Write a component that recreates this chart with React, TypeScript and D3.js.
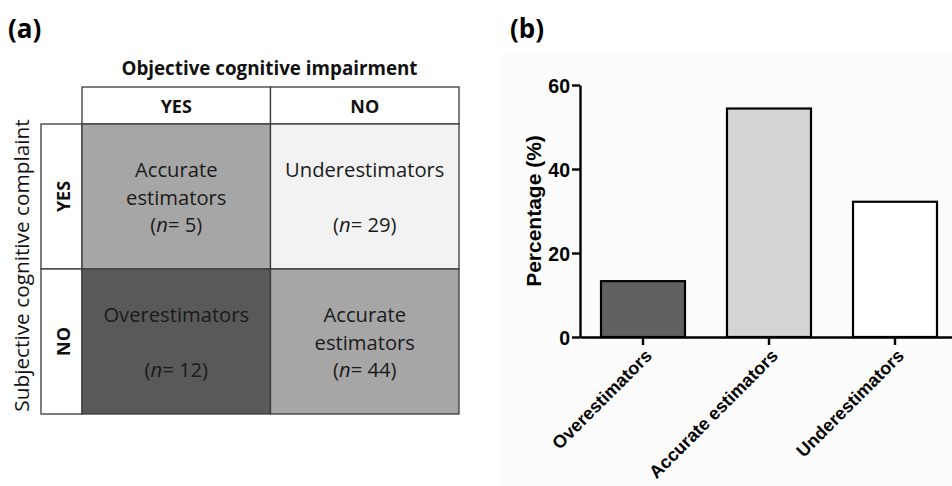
import React, { useEffect, useRef } from 'react';
import * as d3 from 'd3';

// panel (a): 2x2 table
const complaintLevels = ['YES', 'NO'];
const impairmentLevels = ['YES', 'NO'];
const cellGroups = [
  ['Accurate', 'estimators'],
  ['Underestimators'],
  ['Overestimators'],
  ['Accurate', 'estimators'],
];
const cellCounts = [5, 29, 12, 44];

// panel (b): bar chart
const groups = ['Overestimators', 'Accurate estimators', 'Underestimators'];
const percentages = [13.3, 54.4, 32.2];
const yTicks = [0, 20, 40, 60];

const cellFills = ['#a6a6a6', '#f2f2f2', '#595959', '#a6a6a6'];
const barFills = ['#616161', '#d4d4d4', '#ffffff'];

const calibriLike = '"Open Sans", sans-serif';
const arialLike = '"Liberation Sans", Arial, sans-serif';

const App = () => {
  const svgRef = useRef<SVGSVGElement>(null);

  useEffect(() => {
    const svg = d3.select(svgRef.current);
    svg.selectAll('*').remove();

    // ---------- (a) ----------
    const a = svg.append('g');
    a.append('text').text('(a)')
      .attr('x', 8).attr('y', 38)
      .style('font-family', calibriLike).style('font-weight', 700).style('font-size', '26px');

    const col = d3.scaleBand().domain(impairmentLevels).range([82, 459]);
    const row = d3.scaleBand().domain(complaintLevels).range([124, 414]);
    const lineStroke = '#3a3a3a';

    a.append('text').text('Objective cognitive impairment')
      .attr('x', (82 + 459) / 2 - 1).attr('y', 75).attr('text-anchor', 'middle')
      .style('font-family', calibriLike).style('font-weight', 700).style('font-size', '18.8px')
      .attr('fill', '#111');

    // header cells
    a.selectAll('.hcell').data(impairmentLevels).join('rect')
      .attr('class', 'hcell')
      .attr('x', d => col(d)!).attr('y', 87)
      .attr('width', col.bandwidth()).attr('height', 124 - 87)
      .attr('fill', '#fff').attr('stroke', lineStroke).attr('stroke-width', 1.3);
    a.selectAll('.htext').data(impairmentLevels).join('text')
      .attr('class', 'htext').text(d => d)
      .attr('x', d => col(d)! + col.bandwidth() / 2).attr('y', 113)
      .attr('text-anchor', 'middle')
      .style('font-family', calibriLike).style('font-weight', 700).style('font-size', '18px')
      .attr('fill', '#111');

    // row label cells
    a.selectAll('.rcell').data(complaintLevels).join('rect')
      .attr('class', 'rcell')
      .attr('x', 41).attr('y', d => row(d)!)
      .attr('width', 82 - 41).attr('height', row.bandwidth())
      .attr('fill', '#fff').attr('stroke', lineStroke).attr('stroke-width', 1.3);
    a.selectAll('.rtext').data(complaintLevels).join('text')
      .attr('class', 'rtext').text(d => d)
      .attr('transform', d => `translate(70,${row(d)! + row.bandwidth() / 2}) rotate(-90)`)
      .attr('text-anchor', 'middle')
      .style('font-family', calibriLike).style('font-weight', 700).style('font-size', '18px')
      .attr('fill', '#111');

    a.append('text').text('Subjective cognitive complaint')
      .attr('transform', `translate(29,${(123 + 408) / 2}) rotate(-90)`)
      .attr('text-anchor', 'middle')
      .style('font-family', calibriLike).style('font-size', '20.8px')
      .attr('fill', '#111');

    // data cells
    const cells = cellGroups.map((lines, i) => ({
      lines,
      n: cellCounts[i],
      r: complaintLevels[Math.floor(i / 2)],
      c: impairmentLevels[i % 2],
      i,
    }));
    const cg = a.selectAll('.cell').data(cells).join('g').attr('class', 'cell');
    cg.append('rect')
      .attr('x', d => col(d.c)!).attr('y', d => row(d.r)!)
      .attr('width', col.bandwidth()).attr('height', row.bandwidth())
      .attr('fill', d => cellFills[d.i]).attr('stroke', lineStroke).attr('stroke-width', 1.3);
    cg.each(function (d) {
      const g = d3.select(this);
      const cx = col(d.c)! + col.bandwidth() / 2;
      const top = row(d.r)!;
      const t = g.append('text')
        .attr('text-anchor', 'middle')
        .style('font-family', calibriLike).style('font-size', '20.2px')
        .attr('fill', '#1a1a1a');
      d.lines.forEach((ln, k) => {
        t.append('tspan').attr('x', cx).attr('y', top + 53 + k * 27.5).text(ln);
      });
      const ct = t.append('tspan').attr('x', cx).attr('y', top + 108);
      ct.append('tspan').text('(');
      ct.append('tspan').style('font-style', 'italic').text('n');
      ct.append('tspan').text(`= ${d.n})`);
    });

    // ---------- (b) ----------
    const b = svg.append('g');
    b.append('rect').attr('x', 502).attr('y', 50).attr('width', 450).attr('height', 436)
      .attr('fill', '#fcfcfc');
    b.append('text').text('(b)')
      .attr('x', 510).attr('y', 38)
      .style('font-family', calibriLike).style('font-weight', 700).style('font-size', '26px');

    const x = d3.scaleBand().domain(groups).range([580, 958]).paddingInner(1 / 3).paddingOuter(1 / 6);
    const y = d3.scaleLinear().domain([0, 60]).range([337, 85]);

    b.selectAll('.bar').data(groups).join('rect')
      .attr('class', 'bar')
      .attr('x', d => x(d)!).attr('y', (d, i) => y(percentages[i]))
      .attr('width', x.bandwidth()).attr('height', (d, i) => y(0) - y(percentages[i]))
      .attr('fill', (d, i) => barFills[i])
      .attr('stroke', '#000').attr('stroke-width', 2.2);

    const yAxis = b.append('g').attr('transform', 'translate(580,0)')
      .call(d3.axisLeft(y).tickValues(yTicks).tickSize(8).tickSizeOuter(0).tickPadding(2));
    const xAxis = b.append('g').attr('transform', 'translate(0,337)')
      .call(d3.axisBottom(x).tickSize(8).tickSizeOuter(0));

    [yAxis, xAxis].forEach(ax => {
      ax.select('.domain').attr('stroke', '#000').attr('stroke-width', 2.4);
      ax.selectAll('.tick line').attr('stroke', '#000').attr('stroke-width', 2.4);
      ax.selectAll('.tick text')
        .attr('fill', '#000')
        .style('font-family', arialLike).style('font-weight', 700).style('font-size', '19.5px');
    });
    yAxis.selectAll('.tick text').attr('dy', '0.36em');
    xAxis.selectAll('.tick text')
      .attr('x', 0).attr('y', 0).attr('dy', 0)
      .attr('text-anchor', 'end')
      .style('font-size', '18px')
      .attr('transform', 'translate(10,20) rotate(-45)');

    b.append('text').text('Percentage (%)')
      .attr('transform', `translate(541,${(135 + 287) / 2}) rotate(-90)`)
      .attr('text-anchor', 'middle')
      .style('font-family', arialLike).style('font-weight', 700).style('font-size', '21px');
  }, []);

  return (
    <svg ref={svgRef} width={952} height={486}
      style={{ position: 'absolute', left: 0, top: 0, background: '#fff' }} />
  );
};

export default App;
